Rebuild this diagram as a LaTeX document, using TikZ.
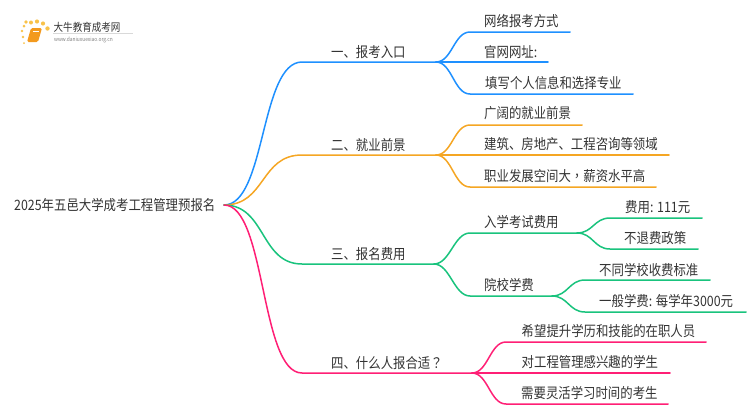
\documentclass[tikz,border=0pt]{standalone}
\usepackage{fontspec}
\setmainfont[FakeStretch=0.867]{Noto Sans CJK SC}
\newfontfamily\tcfont[FakeStretch=0.867]{Noto Sans CJK TC}
\definecolor{cblue}{HTML}{1E90FF}
\definecolor{corange}{HTML}{F5A623}
\definecolor{cgreen}{HTML}{19C37D}
\definecolor{cpink}{HTML}{FF1F75}
\definecolor{ctext}{HTML}{333333}
\definecolor{cbook}{HTML}{F39A1E}
\definecolor{cdot}{HTML}{F8C24A}
\usetikzlibrary{calc}
\tikzset{
  lab/.style={anchor=base west,inner sep=0pt,text=ctext,font=\fontsize{14.3}{14.3}\selectfont},
  wire/.style={line width=1.5pt,line cap=round},
  link/.style={to path={.. controls ($(\tikztostart)+(#1,0)$) and ($(\tikztotarget)+(-#1,0)$) .. (\tikztotarget)}},
  link/.default=16
}
\begin{document}
\begin{tikzpicture}[x=1pt,y=-1pt]
\useasboundingbox (0,0) rectangle (750,410);
% logo
\foreach \a/\b/\r in {24/26/1.5,22/31/1.4,23/37/1.3,24/43/1,26/22/1.8,31/22.5/2,37/21.5/2.1,43/23.5/2.1,47.5/28.5/2.2}
  \fill[cdot] (\a,\b) circle (\r);
\fill[cbook,rounded corners=1.5pt] (31,28) -- (42,28) -- (38,42) -- (27,42) -- cycle;
\draw[white,line width=.5pt] (33,31) -- (39,31);
\draw[black!15,line width=.4pt] (53,33.5) -- (133,33.5);
\node[lab,font=\fontsize{11}{11}\selectfont] (logotitle) at (53.5,31) {大牛教育成考网};
\node[lab,font=\fontsize{5.6}{5.6}\selectfont,text=gray] (logourl) at (54,41) {www.daniuxuexiao.org.cn};
% text
\node[lab] (root) at (14,210.5) {2025年五邑大学成考工程管理预报名};
\node[lab] (b1) at (331,57) {一、报考入口};
\node[lab] (b2) at (331,150) {二、就业前景};
\node[lab] (b3) at (331,259) {三、报名费用};
\node[lab] (b4) at (331,368) {四、什么人报合适{\tcfont ？}};
\node[lab] (a1) at (484,26) {网络报考方式};
\node[lab] (a2) at (484,57) {官网网址:};
\node[lab] (a3) at (485,88) {填写个人信息和选择专业};
\node[lab] (c1) at (484,118) {广阔的就业前景};
\node[lab] (c2) at (484,149) {建筑、房地产、工程咨询等领域};
\node[lab] (c3) at (484,181) {职业发展空间大{\tcfont ，}薪资水平高};
\node[lab] (d1) at (484,227) {入学考试费用};
\node[lab] (d2) at (484,290) {院校学费};
\node[lab] (e1) at (625,212) {费用: 111元};
\node[lab] (e2) at (624,243) {不退费政策};
\node[lab] (e3) at (599,275) {不同学校收费标准};
\node[lab] (e4) at (599,306) {一般学费: 每学年3000元};
\node[lab] (f1) at (521.5,336) {希望提升学历和技能的在职人员};
\node[lab] (f2) at (521.5,367) {对工程管理感兴趣的学生};
\node[lab] (f3) at (521,398) {需要灵活学习时间的考生};
% anchors
\coordinate (R) at (224,205);
\coordinate (B1s) at (302,62); \coordinate (B1e) at (436,62);
\coordinate (B2s) at (302,155); \coordinate (B2e) at (436,155);
\coordinate (B3s) at (302,264); \coordinate (B3e) at (434,264);
\coordinate (B4s) at (302,373); \coordinate (B4e) at (472,373);
\coordinate (D1) at (577,233);
\coordinate (D2) at (552,296);
% blue
\draw[wire,cblue] (R) to[link=42] (B1s) -- (B1e);
\draw[wire,cblue] (B1e) to[link] (470,32) -- (570,32);
\draw[wire,cblue] (B1e) -- (548,62);
\draw[wire,cblue] (B1e) to[link] (470,94) -- (633,94);
% orange
\draw[wire,corange] (R) to[link=42] (B2s) -- (B2e);
\draw[wire,corange] (B2e) to[link] (470,125) -- (582,125);
\draw[wire,corange] (B2e) -- (669,155);
\draw[wire,corange] (B2e) to[link] (470,187) -- (656,187);
% green
\draw[wire,cgreen] (R) to[link=42] (B3s) -- (B3e);
\draw[wire,cgreen] (B3e) to[link] (470,233) -- (D1);
\draw[wire,cgreen] (B3e) to[link] (470,296) -- (D2);
\draw[wire,cgreen] (D1) to[link] (610,218) -- (702,218);
\draw[wire,cgreen] (D1) to[link] (610,249) -- (698,249);
\draw[wire,cgreen] (D2) to[link] (585,280) -- (710,280);
\draw[wire,cgreen] (D2) to[link] (585,312) -- (746,312);
% pink
\draw[wire,cpink] (R) to[link=42] (B4s) -- (B4e);
\draw[wire,cpink] (B4e) to[link] (506,342) -- (706,342);
\draw[wire,cpink] (B4e) -- (670,373);
\draw[wire,cpink] (B4e) to[link] (506,404) -- (668,404);
\end{tikzpicture}
\end{document}
